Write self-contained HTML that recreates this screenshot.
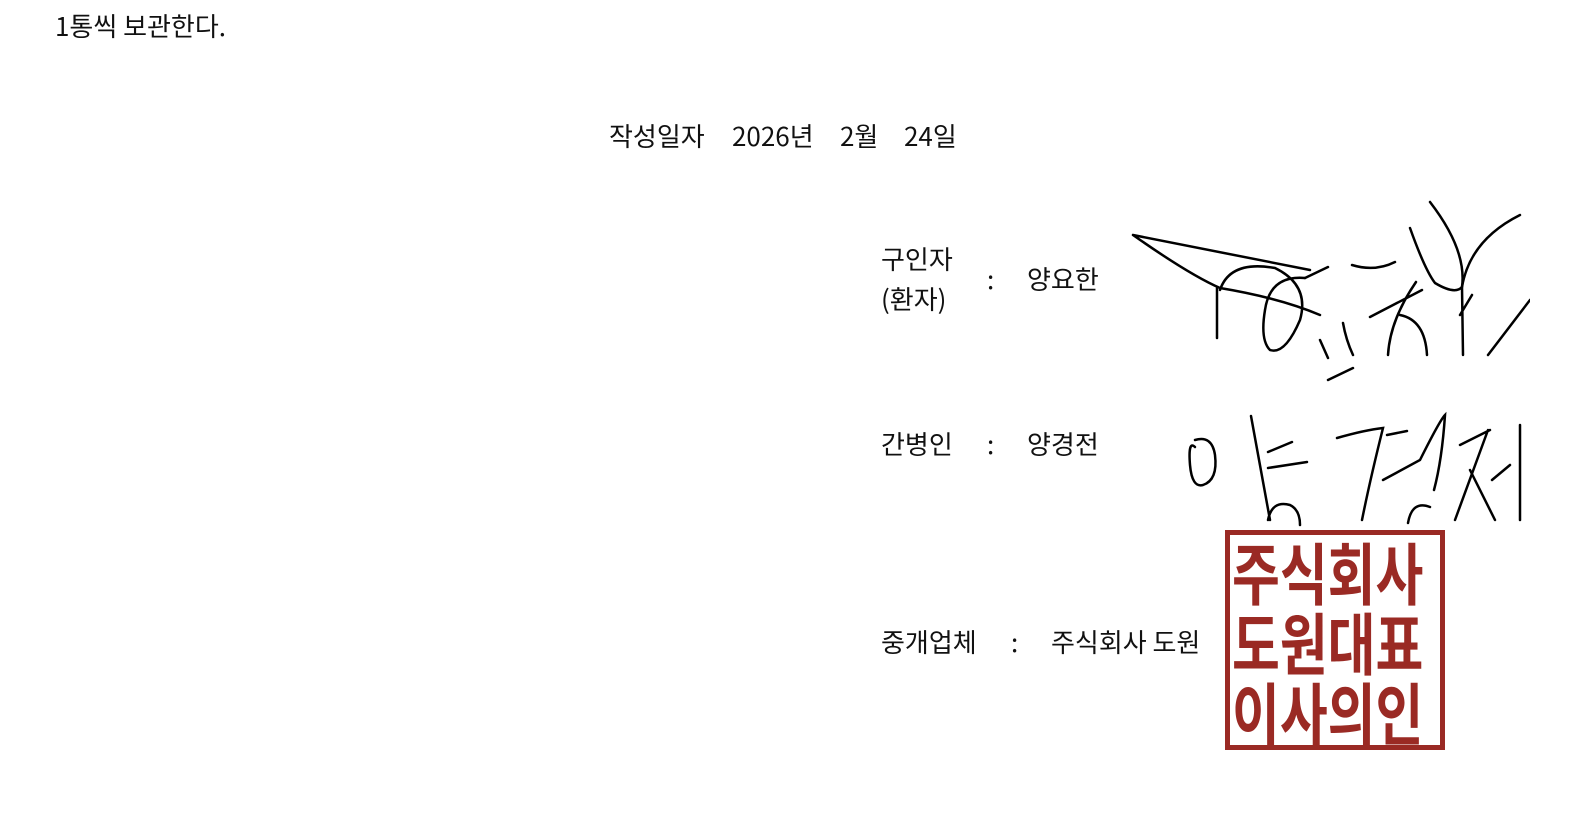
<!DOCTYPE html>
<html><head><meta charset="utf-8">
<style>
html,body{margin:0;padding:0;background:#fff;width:1588px;height:825px;overflow:hidden;position:relative}
.t{position:absolute;font-family:"Noto Sans CJK KR","Liberation Sans",sans-serif;font-size:26px;color:#111;white-space:nowrap;line-height:1}
.stamp{position:absolute;left:1225px;top:530px;width:210px;height:210px;border:5px solid #9a2a24;}
.row{position:absolute;left:2px;width:208px;display:flex;justify-content:space-between;font-family:"Noto Sans CJK KR",sans-serif;font-weight:700;color:#9a2a24;font-size:52px;line-height:1;transform:scaleY(1.3);transform-origin:top left}
</style></head><body>
<div class="t" style="left:55px;top:13px">1통씩 보관한다.</div>
<div class="t" style="left:609px;top:123px">작성일자</div>
<div class="t" style="left:732px;top:123px">2026년</div>
<div class="t" style="left:840px;top:123px">2월</div>
<div class="t" style="left:904px;top:123px">24일</div>
<div class="t" style="left:881px;top:246px">구인자</div>
<div class="t" style="left:881px;top:286px">(환자)</div>
<div class="t" style="left:987px;top:266px">:</div>
<div class="t" style="left:1027px;top:266px">양요한</div>
<div class="t" style="left:881px;top:431px">간병인</div>
<div class="t" style="left:987px;top:431px">:</div>
<div class="t" style="left:1027px;top:431px">양경전</div>
<div class="t" style="left:881px;top:629px">중개업체</div>
<div class="t" style="left:1011px;top:629px">:</div>
<div class="t" style="left:1051px;top:629px">주식회사 도원</div>
<svg style="position:absolute;left:1100px;top:190px" width="430" height="340" viewBox="0 0 430 340" fill="none" stroke="#000" stroke-width="2.5" stroke-linecap="round">
<path d="M33 45 L210 80 M33 45 Q90 85 120 98 Q180 108 220 125"/>
<path d="M117 98 L117 148"/>
<path d="M120 100 Q130 70 175 78 Q210 95 200 130 Q185 165 170 160 Q160 150 165 120 Q170 85 205 88"/>
<path d="M205 88 L228 77"/>
<path d="M220 150 L228 168 M243 133 Q246 150 253 165 M228 190 L253 178"/>
<path d="M252 75 Q275 82 295 72"/>
<path d="M310 38 Q325 80 335 93 Q355 105 362 97 Q367 60 330 12"/>
<path d="M270 127 L322 100 M316 92 Q290 130 288 165 M300 125 Q325 130 327 165"/>
<path d="M362 97 Q370 50 420 25 M362 97 L363 165 M360 125 L372 105"/>
<path d="M388 165 L430 110"/>
<path d="M95 257 Q88 250 90 275 Q92 298 103 295 Q118 290 115 265 Q112 245 95 250"/>
<path d="M151 226 L170 330 M168 262 L192 252 M168 278 L207 272 M168 330 Q172 310 190 315 Q200 320 200 335"/>
<path d="M237 248 Q265 240 283 238 Q270 290 262 330 M287 245 L307 241 M283 290 L320 270 Q340 230 345 225 Q342 270 334 300 M308 333 Q312 310 330 317"/>
<path d="M360 255 L390 240 M388 240 L355 330 M370 280 L395 330 M420 235 L420 330 M392 290 L410 275"/>
</svg>
<div class="stamp">
<div class="row" style="top:2px">주식회사</div>
<div class="row" style="top:72px">도원대표</div>
<div class="row" style="top:142px">이사의인</div>
</div>
</body></html>
